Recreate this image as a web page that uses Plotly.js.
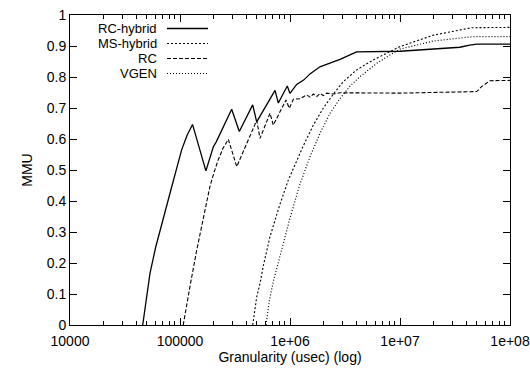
<!DOCTYPE html>
<html>
<head>
<meta charset="utf-8">
<script src="https://cdn.plot.ly/plotly-3.0.1.min.js"></script>
<style>
html,body{margin:0;padding:0;background:#fff;}
#chart{width:530px;height:369px;}
</style>
</head>
<body>
<div id="chart"></div>
<script>
// Series (x = granularity in usec, y = MMU)
const seriesNames = ["RC-hybrid", "MS-hybrid", "RC", "VGEN"];

const rcHybridX = [45800, 49300, 53400, 60000, 68200, 76000, 84100, 93400, 103500, 116000, 130000, 172000, 201000, 213000, 295000, 346000, 458000, 498000, 731000, 783000, 945000, 1000000, 1150000, 1330000, 1520000, 1870000, 2310000, 2850000, 3760000, 4030000, 10000000, 35000000, 43000000, 50000000, 100000000];
const rcHybridY = [0, 0.085, 0.167, 0.25, 0.328, 0.388, 0.446, 0.506, 0.565, 0.612, 0.647, 0.497, 0.575, 0.59, 0.696, 0.624, 0.71, 0.655, 0.757, 0.716, 0.771, 0.747, 0.776, 0.79, 0.81, 0.833, 0.845, 0.857, 0.876, 0.881, 0.883, 0.896, 0.903, 0.906, 0.906];

const msHybridX = [458000, 498000, 534000, 571000, 658000, 705000, 811000, 966000, 1072000, 1321000, 1630000, 2010000, 2478000, 3055000, 4035000, 5710000, 8110000, 10000000, 20100000, 44900000, 100000000];
const msHybridY = [0, 0.09, 0.134, 0.19, 0.285, 0.32, 0.39, 0.468, 0.505, 0.578, 0.645, 0.70, 0.745, 0.785, 0.823, 0.855, 0.882, 0.898, 0.935, 0.959, 0.96];

const rcX = [107000, 115000, 124000, 142000, 163000, 187000, 203000, 221000, 246000, 275000, 328000, 498000, 534000, 658000, 705000, 920000, 986000, 1072000, 1233000, 1418000, 1520000, 1630000, 1750000, 1874000, 2010000, 2157000, 2478000, 2848000, 10000000, 49800000, 55200000, 65800000, 100000000];
const rcY = [0, 0.07, 0.13, 0.242, 0.349, 0.446, 0.49, 0.53, 0.57, 0.599, 0.511, 0.66, 0.602, 0.683, 0.645, 0.726, 0.699, 0.728, 0.73, 0.742, 0.735, 0.745, 0.737, 0.747, 0.74, 0.748, 0.745, 0.749, 0.748, 0.753, 0.769, 0.788, 0.789];

const vgenX = [605000, 650000, 705000, 842000, 1000000, 1233000, 1520000, 1874000, 2310000, 2848000, 3500000, 4325000, 6140000, 8110000, 10000000, 20100000, 44900000, 100000000];
const vgenY = [0, 0.08, 0.14, 0.245, 0.345, 0.455, 0.543, 0.618, 0.683, 0.73, 0.77, 0.801, 0.844, 0.871, 0.89, 0.916, 0.93, 0.93];

const xTickVals = [10000, 100000, 1000000, 10000000, 100000000];
const xTickText = ["10000", "100000", "1e+06", "1e+07", "1e+08"];
const yTickVals = [0, 0.1, 0.2, 0.3, 0.4, 0.5, 0.6, 0.7, 0.8, 0.9, 1];
const yTickText = ["0", "0.1", "0.2", "0.3", "0.4", "0.5", "0.6", "0.7", "0.8", "0.9", "1"];

const dashes = ["solid", "2px,2px", "4px,2px", "1px,2px"];
const widths = [1.3, 1.1, 1.1, 1.2];

const xs = [rcHybridX, msHybridX, rcX, vgenX];
const ys = [rcHybridY, msHybridY, rcY, vgenY];

const minorVals = [];
for (let e = 4; e < 8; e++) {
  for (let m = 2; m <= 9; m++) minorVals.push(m * Math.pow(10, e));
}

const traces = seriesNames.map((n, i) => ({
  x: xs[i], y: ys[i], name: n, type: "scatter", mode: "lines",
  line: {color: "#000", width: widths[i], dash: dashes[i]},
  showlegend: false, hoverinfo: "skip"
}));

const FONT = "Liberation Sans, Arial, sans-serif";
const L = 70, R = 20, T = 15, B = 44, W = 530, H = 369;
const pw = W - L - R, ph = H - T - B;
const legRowsPx = [28.5, 43.5, 58.5, 73.5];
const shapes = [], annotations = [];
seriesNames.forEach((n, i) => {
  const py = (H - B - legRowsPx[i]) / ph;
  annotations.push({
    xref: "paper", yref: "paper", x: (158 - L) / pw, y: py,
    xanchor: "right", yanchor: "middle", text: n, showarrow: false,
    borderpad: 0,
    font: {family: FONT, size: 13, color: "#000"}
  });
  shapes.push({
    type: "line", xref: "paper", yref: "paper",
    x0: (167 - L) / pw, x1: (208 - L) / pw, y0: py, y1: py,
    line: {color: "#000", width: widths[i], dash: dashes[i]}
  });
});

const layout = {
  width: W, height: H,
  margin: {l: L, r: R, t: T, b: B, pad: 0},
  paper_bgcolor: "#fff", plot_bgcolor: "#fff",
  font: {family: FONT, size: 14, color: "#000"},
  xaxis: {
    type: "log", range: [4, 8],
    tickmode: "array", tickvals: xTickVals, ticktext: xTickText,
    ticks: "inside", ticklen: 7, tickcolor: "#000", tickwidth: 1,
    ticklabelstandoff: 3,
    minor: {tickmode: "array", tickvals: minorVals, ticks: "inside", ticklen: 4, tickcolor: "#000", tickwidth: 1, showgrid: false},
    showline: true, linecolor: "#000", linewidth: 1, mirror: "ticks",
    showgrid: false, zeroline: false,
    tickfont: {family: FONT, size: 14},
    title: {text: "Granularity (usec) (log)", font: {family: FONT, size: 14}, standoff: 3}
  },
  yaxis: {
    range: [0, 1],
    tickmode: "array", tickvals: yTickVals, ticktext: yTickText,
    ticks: "inside", ticklen: 7, tickcolor: "#000", tickwidth: 1,
    showline: true, linecolor: "#000", linewidth: 1, mirror: "ticks",
    showgrid: false, zeroline: false,
    tickfont: {family: FONT, size: 14},
    title: {text: "MMU", font: {family: FONT, size: 14}, standoff: 10}
  },
  shapes: shapes,
  annotations: annotations
};

Plotly.newPlot("chart", traces, layout, {staticPlot: true, displayModeBar: false});
</script>
</body>
</html>
